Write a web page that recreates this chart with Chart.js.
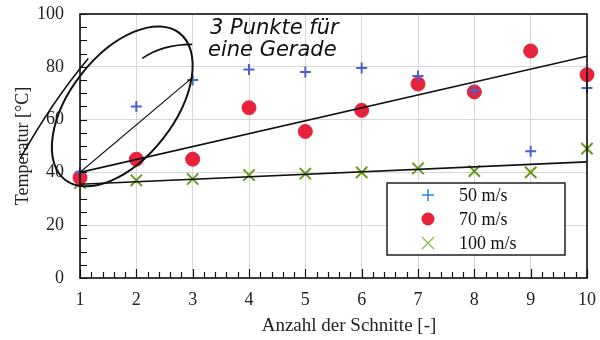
<!DOCTYPE html>
<html>
<head>
<meta charset="utf-8">
<script src="https://cdn.jsdelivr.net/npm/chart.js@4.4.1/dist/chart.umd.min.js"></script>
<style>
  html, body { margin: 0; background: #fff; }
  #wrap { width: 600px; height: 340px; }
</style>
</head>
<body>
<div id="wrap"><canvas id="chart"></canvas></div>
<script>
// values
const cuts = [1, 2, 3, 4, 5, 6, 7, 8, 9, 10];
const temp50 = [40, 65, 75, 79, 78, 79.5, 76.5, 71, 48, 72];
const temp70 = [38, 45, 45, 64.5, 55.5, 63.5, 73.5, 70.5, 86, 77];
const temp100 = [36, 37, 37.5, 39, 39.5, 40, 41.5, 40.5, 40, 49];
const seriesNames = ['50 m/s', '70 m/s', '100 m/s'];

// the two straight lines drawn through the data, and the hand-drawn one
const fitX = [1, 10];
const fit70 = [40, 84];
const fit100 = [35.5, 44];
const sketchX = [1, 3];
const sketchY = [40, 76];
const note = ['3 Punkte für', 'eine Gerade'];

const SERIF = "'Liberation Serif', 'Times New Roman', serif";
const pts = (xs, ys) => xs.map((x, i) => ({ x: x, y: ys[i] }));

const styles = [
  { style: 'cross', color: '#4a62cc', radius: 5.5, width: 2 },
  { style: 'circle', color: '#e8223a', radius: 7, width: 1 },
  { style: 'crossRot', color: '#6a9a1e', radius: 8, width: 2 }
];
const values = [temp50, temp70, temp100];

const datasets = values.map((v, i) => ({
  type: 'scatter',
  label: seriesNames[i],
  data: pts(cuts, v),
  pointStyle: styles[i].style,
  pointRadius: styles[i].radius,
  pointBackgroundColor: styles[i].color,
  pointBorderColor: styles[i].color,
  pointBorderWidth: styles[i].width,
  clip: false,
  order: 2
}));

[[fitX, fit70], [fitX, fit100], [sketchX, sketchY]].forEach(([xs, ys], i) => {
  datasets.push({
    type: 'line',
    label: 'fit' + i,
    data: pts(xs, ys),
    borderColor: '#111',
    borderWidth: i == 2 ? 1.2 : 1.6,
    pointRadius: 0,
    fill: false,
    order: 1
  });
});

// frame, minor ticks, legend box and the pen notes
const decor = {
  id: 'decor',
  afterDatasetsDraw(chart) {
    const ctx = chart.ctx;
    const a = chart.chartArea;
    const xs = chart.scales.x, ys = chart.scales.y;
    ctx.save();

    // ticks pointing inwards
    ctx.strokeStyle = '#111';
    ctx.lineWidth = 1.2;
    ctx.beginPath();
    for (let v = 0; v <= 100; v += 5) {
      const py = Math.round(ys.getPixelForValue(v)) + 0.5;
      ctx.moveTo(a.left, py);
      ctx.lineTo(a.left + 7, py);
    }
    for (let k = 0; k <= 45; k++) {
      const v = 1 + k * 0.2;
      const px = Math.round(xs.getPixelForValue(v)) + 0.5;
      ctx.moveTo(px, a.bottom);
      ctx.lineTo(px, a.bottom - (k % 5 == 0 ? 9 : 6));
    }
    ctx.stroke();

    // frame
    ctx.lineWidth = 1.6;
    ctx.strokeRect(a.left, a.top, a.right - a.left, a.bottom - a.top);

    // legend inside the plot
    const lx = 387, ly = 183, lw = 178, lh = 72;
    ctx.fillStyle = '#fff';
    ctx.fillRect(lx, ly, lw, lh);
    ctx.lineWidth = 1.4;
    ctx.strokeStyle = '#111';
    ctx.strokeRect(lx, ly, lw, lh);
    const legendColors = ['#2f86e6', '#e8223a', '#8ab83a'];
    seriesNames.forEach((name, i) => {
      const cy = ly + 12 + i * 24;
      const cx = lx + 41;
      ctx.strokeStyle = legendColors[i];
      ctx.fillStyle = legendColors[i];
      ctx.lineWidth = 1.5;
      ctx.beginPath();
      if (i == 0) {
        ctx.moveTo(cx - 6, cy); ctx.lineTo(cx + 6, cy);
        ctx.moveTo(cx, cy - 6); ctx.lineTo(cx, cy + 6);
        ctx.stroke();
      } else if (i == 1) {
        ctx.arc(cx, cy, 6.5, 0, Math.PI * 2);
        ctx.fill();
      } else {
        ctx.lineWidth = 1.1;
        ctx.moveTo(cx - 6, cy - 6); ctx.lineTo(cx + 6, cy + 6);
        ctx.moveTo(cx + 6, cy - 6); ctx.lineTo(cx - 6, cy + 6);
        ctx.stroke();
      }
      ctx.fillStyle = '#111';
      ctx.font = '18px ' + SERIF;
      ctx.textBaseline = 'middle';
      ctx.textAlign = 'left';
      ctx.fillText(name, lx + 72, cy + 1);
    });

    // x axis title (sits a little right of the plot centre)
    ctx.fillStyle = '#222';
    ctx.font = '19px ' + SERIF;
    ctx.textAlign = 'center';
    ctx.textBaseline = 'middle';
    ctx.fillText('Anzahl der Schnitte [-]', 349, 326);

    // handwritten loop around the first three points
    const ex = xs.getPixelForValue(1.75), ey = ys.getPixelForValue(65);
    ctx.strokeStyle = '#111';
    ctx.lineWidth = 2;
    ctx.beginPath();
    ctx.ellipse(ex, ey, 93, 52, -52 * Math.PI / 180, 0, Math.PI * 2);
    ctx.stroke();
    ctx.lineWidth = 1.6;
    ctx.beginPath();
    ctx.moveTo(ex - 34, ey - 48);
    ctx.quadraticCurveTo(ex - 70, ey - 5, ex - 102, ey + 52);
    ctx.moveTo(ex + 20, ey - 48);
    ctx.quadraticCurveTo(ex + 40, ey - 62, ex + 70, ey - 62);
    ctx.stroke();

    ctx.font = 'italic 21px "DejaVu Sans", sans-serif';
    ctx.fillStyle = '#111';
    ctx.textAlign = 'left';
    ctx.textBaseline = 'alphabetic';
    ctx.fillText(note[0], 210, 34);
    ctx.fillText(note[1], 208, 56);

    ctx.restore();
  }
};

const noPad = (s) => {
  s.paddingTop = 0; s.paddingBottom = 0;
  s.paddingLeft = 0; s.paddingRight = 0;
};

new Chart(document.getElementById('chart'), {
  data: { datasets: datasets },
  plugins: [decor],
  options: {
    responsive: true,
    maintainAspectRatio: false,
    animation: false,
    layout: { padding: { top: 14, right: 13, left: 0, bottom: 0 } },
    plugins: { legend: { display: false }, tooltip: { enabled: false } },
    scales: {
      x: {
        type: 'linear',
        min: 1, max: 10,
        afterFit: (s) => { s.height = 62; noPad(s); },
        ticks: { stepSize: 1, padding: 11, color: '#222', font: { family: SERIF, size: 18 } },
        grid: { color: '#d6d6dc', drawTicks: false },
        border: { display: false }
      },
      y: {
        min: 0, max: 100,
        afterFit: (s) => { s.width = 80; noPad(s); },
        ticks: { stepSize: 20, padding: 16, color: '#222', font: { family: SERIF, size: 18 } },
        grid: { color: '#d6d6dc', drawTicks: false },
        border: { display: false },
        title: {
          display: true,
          text: 'Temperatur [°C]',
          color: '#222',
          font: { family: SERIF, size: 18 },
          padding: { top: 12, bottom: 0 }
        }
      }
    }
  }
});
</script>
</body>
</html>
